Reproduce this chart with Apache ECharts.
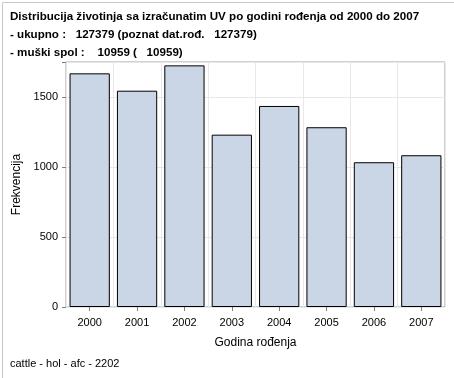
<!DOCTYPE html>
<html><head><meta charset="utf-8">
<script src="https://cdn.jsdelivr.net/npm/echarts@6/dist/echarts.min.js"></script>
<style>html,body{margin:0;padding:0;background:#fff}#c{width:454px;height:378px}</style>
</head><body><div id="c"></div>
<script>
const categories = ['2000','2001','2002','2003','2004','2005','2006','2007'];
const values = [1669, 1545, 1726, 1231, 1436, 1284, 1034, 1084];
const yTicks = [0, 500, 1000, 1500];
const titleLines = ['Distribucija životinja sa izračunatim UV po godini rođenja od 2000 do 2007',
  '- ukupno :   127379 (poznat dat.rođ.   127379)',
  '- muški spol :    10959 (   10959)'];
const footer = 'cattle - hol - afc - 2202';

const chart = echarts.init(document.getElementById('c'), null, {renderer:'canvas'});
const ff = 'Arial, "Liberation Sans", sans-serif';
chart.setOption({
  animation:false,
  textStyle:{fontFamily:ff},
  graphic:[
    {type:'rect', left:0, top:0, shape:{x:0.5,y:0.5,width:453,height:377}, style:{fill:'none', stroke:'#c8c8c8', lineWidth:1}, silent:true},
    {type:'text', left:10, top:8, style:{text:titleLines.join('\n'), font:'bold 11.6px '+ff, lineHeight:18, fill:'#000'}},
    {type:'text', left:10, top:358, style:{text:footer, font:'11px '+ff, fill:'#000'}}
  ],
  grid:{left:66, right:9, top:62, bottom:71, show:true, borderColor:'#a0a0a0', borderWidth:1},
  xAxis:{type:'category', data:categories, name:'Godina rođenja', nameLocation:'middle', nameGap:30,
    nameTextStyle:{fontSize:12, color:'#000'},
    axisLine:{show:false}, axisTick:{show:true, alignWithLabel:true, length:4, lineStyle:{color:'#808080'}},
    axisLabel:{color:'#000', fontSize:11, margin:10},
    splitLine:{show:true, lineStyle:{color:'#e8e8e8'}}},
  yAxis:{type:'value', min:0, max:1750, interval:500, name:'Frekvencija', nameLocation:'middle', nameGap:40,
    nameTextStyle:{fontSize:12, color:'#000'},
    axisLine:{show:false}, axisTick:{show:true, length:4, lineStyle:{color:'#808080'}},
    axisLabel:{color:'#000', fontSize:11, margin:8, formatter:v=>yTicks.includes(v)?String(v):''},
    splitLine:{show:true, lineStyle:{color:'#e8e8e8'}}},
  series:[{type:'bar', data:values, barCategoryGap:'15%',
    itemStyle:{color:'#CAD5E5', borderColor:'#000', borderWidth:1}}]
});
</script></body></html>
